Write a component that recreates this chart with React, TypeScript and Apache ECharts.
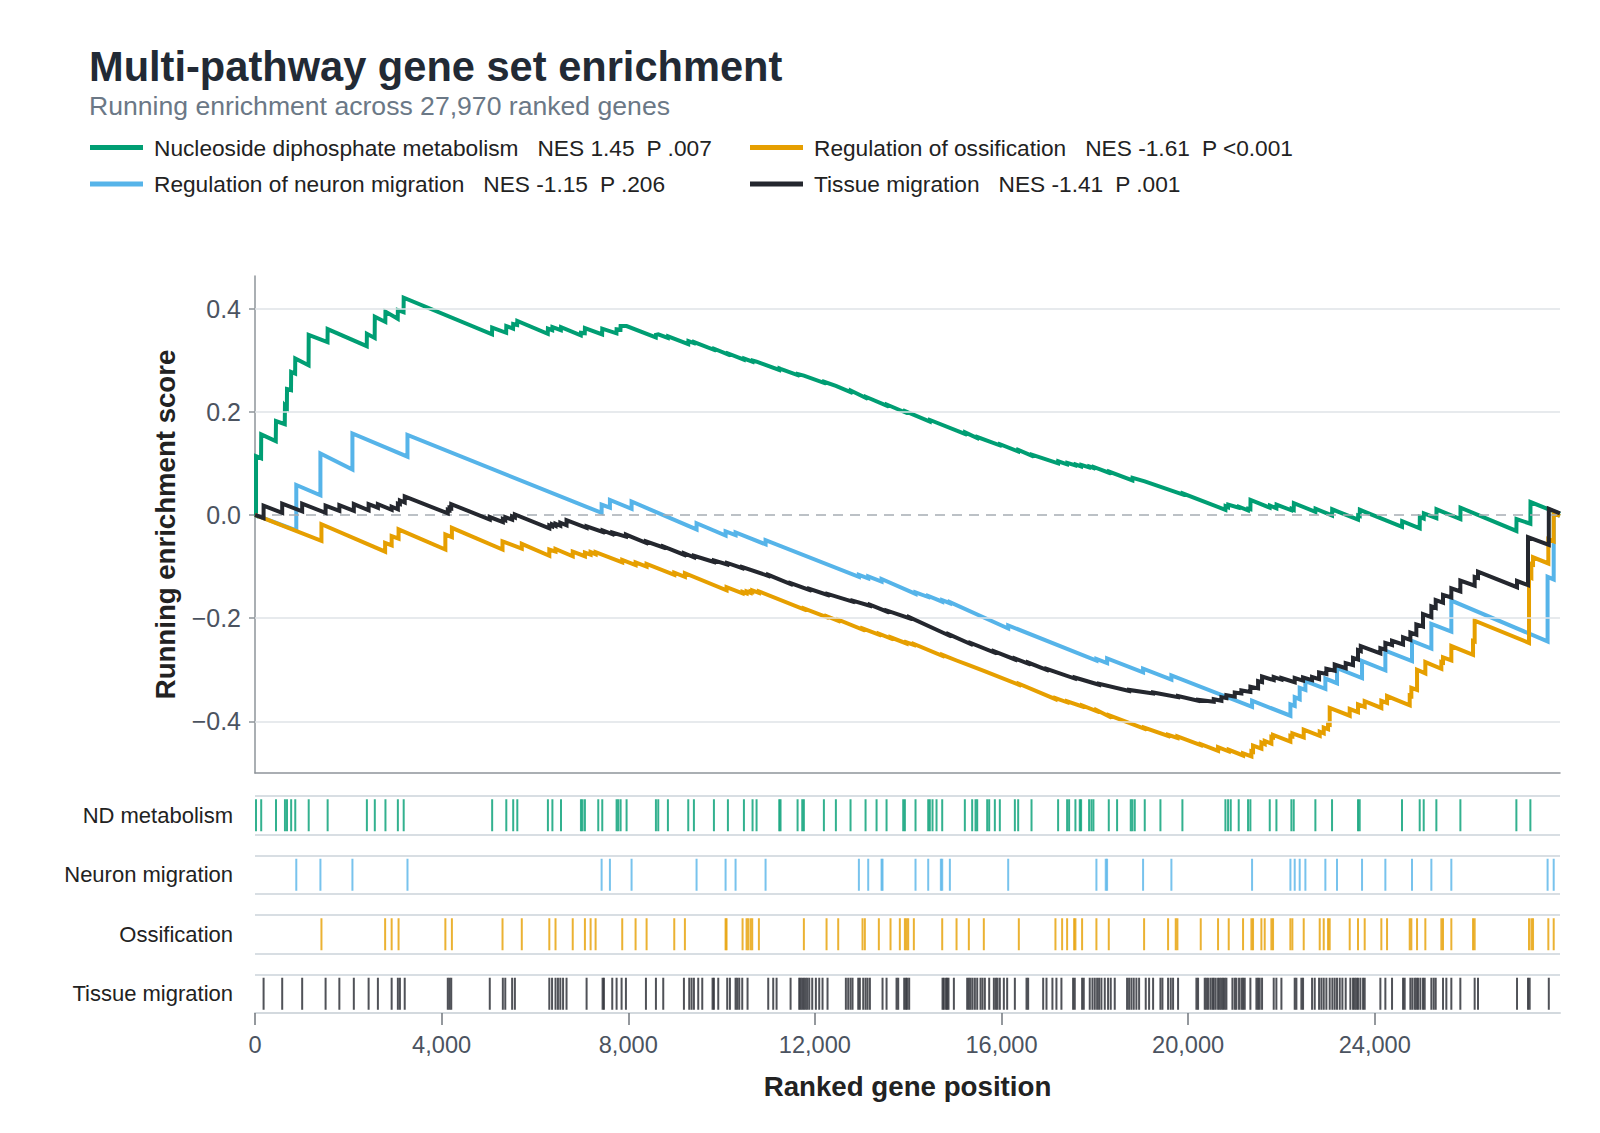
import React, { useEffect, useRef } from "react";
import * as echarts from "echarts";

const TOTAL_GENES = 27970;
const yTickValues = [-0.4, -0.2, 0, 0.2, 0.4];
const xTickValues = [0, 4000, 8000, 12000, 16000, 20000, 24000];
const gridLineValues = [-0.4, -0.2, 0.2, 0.4];

const pathwayNames = [
  "Nucleoside diphosphate metabolism",
  "Regulation of neuron migration",
  "Regulation of ossification",
  "Tissue migration",
];
const nesValues = ["1.45", "-1.15", "-1.61", "-1.41"];
const pValues = [".007", ".206", "<0.001", ".001"];
const rugLabels = ["ND metabolism", "Neuron migration", "Ossification", "Tissue migration"];
const colors = ["#009E73", "#56B4E9", "#E69F00", "#24272e"];

// Running enrichment score: [gene rank, score]
const ndScore = [
  [0, 0], [22, -0.001], [22, 0.114], [130, 0.11], [133, 0.156], [445, 0.143], [450, 0.182], [638, 0.176], [642, 0.212],
  [683, 0.208], [686, 0.244], [772, 0.242], [775, 0.277], [860, 0.274], [863, 0.303], [1148, 0.29], [1151, 0.349],
  [1554, 0.335], [1557, 0.36], [2395, 0.327], [2398, 0.351], [2565, 0.343], [2568, 0.384], [2793, 0.374], [2796, 0.394],
  [3059, 0.38], [3062, 0.397], [3184, 0.393], [3187, 0.421], [5080, 0.35], [5083, 0.363], [5383, 0.353], [5386, 0.366],
  [5531, 0.361], [5534, 0.37], [5619, 0.368], [5622, 0.376], [6275, 0.351], [6278, 0.361], [6371, 0.358], [6374, 0.364],
  [6556, 0.358], [6559, 0.364], [6983, 0.348], [6986, 0.353], [7068, 0.352], [7071, 0.362], [7440, 0.35], [7443, 0.361],
  [7747, 0.352], [7750, 0.36], [7833, 0.359], [7836, 0.366], [7964, 0.366], [8590, 0.344], [8593, 0.349], [8643, 0.35],
  [8850, 0.343], [8853, 0.346], [9286, 0.331], [9289, 0.337], [9407, 0.333], [9410, 0.335], [9836, 0.32], [9839, 0.322],
  [10136, 0.311], [10139, 0.313], [10479, 0.301], [10482, 0.303], [10664, 0.297], [10667, 0.299], [10750, 0.297],
  [11236, 0.281], [11239, 0.284], [11264, 0.283], [11629, 0.271], [11632, 0.273], [11764, 0.27], [12193, 0.256],
  [12196, 0.258], [12450, 0.25], [12764, 0.238], [12767, 0.241], [13086, 0.227], [13089, 0.229], [13536, 0.212],
  [13539, 0.214], [13929, 0.199], [13932, 0.201], [14464, 0.181], [14467, 0.184], [15214, 0.157], [15217, 0.16],
  [15479, 0.149], [15482, 0.151], [15964, 0.135], [15967, 0.137], [16357, 0.123], [16360, 0.126], [16643, 0.115],
  [16646, 0.117], [17213, 0.1], [17216, 0.104], [17406, 0.098], [17409, 0.101], [17584, 0.096], [17587, 0.098],
  [17706, 0.094], [17709, 0.097], [17877, 0.092], [17880, 0.094], [17970, 0.091], [17973, 0.093], [18299, 0.082],
  [18302, 0.084], [18806, 0.067], [18809, 0.072], [19070, 0.065], [19073, 0.066], [19877, 0.04], [19880, 0.042],
  [20799, 0.01], [20802, 0.017], [20856, 0.015], [20859, 0.02], [21084, 0.014], [21087, 0.016], [21284, 0.009],
  [21287, 0.012], [21334, 0.011], [21337, 0.029], [21749, 0.014], [21752, 0.018], [21892, 0.013], [21895, 0.02],
  [22213, 0.009], [22216, 0.012], [22263, 0.01], [22266, 0.023], [22727, 0.006], [22730, 0.012], [23084, -0.001],
  [23087, 0.011], [23641, -0.009], [23644, -0.001], [23677, -0.002], [23680, 0.01], [24584, -0.023], [24587, -0.012],
  [24963, -0.026], [24966, -0.004], [25049, -0.007], [25052, 0.003], [25320, -0.006], [25323, 0.011], [25835, -0.008],
  [25838, 0.014], [27035, -0.031], [27038, -0.008], [27335, -0.017], [27338, 0.025], [27970, 0.002],
];

const neuronScore = [
  [0, 0], [885, -0.03], [885, 0.058], [1402, 0.038], [1402, 0.119], [2088, 0.088], [2088, 0.158], [3268, 0.113],
  [3268, 0.155], [7429, 0.004], [7429, 0.02], [7607, 0.014], [7607, 0.029], [8071, 0.012], [8071, 0.026],
  [9464, -0.028], [9464, -0.016], [10086, -0.04], [10086, -0.032], [10300, -0.039], [10300, -0.034], [10943, -0.057],
  [10943, -0.049], [12943, -0.12], [12943, -0.116], [13143, -0.123], [13143, -0.119], [13429, -0.129], [13429, -0.124],
  [14157, -0.153], [14157, -0.15], [14429, -0.159], [14429, -0.157], [14729, -0.168], [14729, -0.165], [14893, -0.171],
  [14893, -0.169], [16143, -0.22], [16143, -0.214], [18034, -0.282], [18034, -0.279], [18263, -0.287], [18263, -0.278],
  [19034, -0.305], [19034, -0.298], [19641, -0.319], [19641, -0.311], [21370, -0.372], [21370, -0.36], [22192, -0.389],
  [22192, -0.367], [22284, -0.37], [22284, -0.353], [22391, -0.357], [22391, -0.335], [22513, -0.339], [22513, -0.322],
  [22941, -0.337], [22941, -0.317], [23191, -0.326], [23191, -0.297], [23727, -0.316], [23727, -0.283], [24227, -0.301],
  [24227, -0.263], [24798, -0.283], [24798, -0.244], [25213, -0.259], [25213, -0.211], [25641, -0.226], [25641, -0.166],
  [27704, -0.245], [27704, -0.12], [27835, -0.125], [27835, 0.003], [27970, -0.002],
];

const ossificationScore = [
  [0, 0], [1424, -0.05], [1424, -0.018], [2789, -0.071], [2789, -0.054], [2929, -0.059], [2929, -0.041], [3077, -0.046],
  [3077, -0.028], [4080, -0.067], [4080, -0.038], [4220, -0.043], [4220, -0.025], [5305, -0.067], [5305, -0.051],
  [5718, -0.065], [5718, -0.056], [6308, -0.079], [6308, -0.067], [6441, -0.071], [6441, -0.066], [6810, -0.08],
  [6810, -0.071], [7071, -0.08], [7071, -0.073], [7193, -0.077], [7193, -0.072], [7300, -0.076], [7300, -0.072],
  [7871, -0.092], [7871, -0.087], [8157, -0.097], [8157, -0.092], [8393, -0.1], [8393, -0.095], [8986, -0.116],
  [8986, -0.112], [9214, -0.12], [9214, -0.113], [10107, -0.146], [10107, -0.14], [10450, -0.152], [10450, -0.149],
  [10536, -0.152], [10536, -0.148], [10621, -0.151], [10621, -0.148], [10657, -0.149], [10657, -0.146], [10800, -0.151],
  [10800, -0.148], [11764, -0.183], [11764, -0.181], [12250, -0.198], [12250, -0.196], [12500, -0.205], [12500, -0.203],
  [13021, -0.222], [13021, -0.22], [13371, -0.232], [13371, -0.23], [13621, -0.239], [13621, -0.237], [13964, -0.249],
  [13964, -0.247], [14121, -0.252], [14121, -0.25], [14729, -0.273], [14729, -0.271], [15036, -0.282], [15036, -0.281],
  [15300, -0.291], [15300, -0.29], [15621, -0.302], [15621, -0.301], [16371, -0.329], [16371, -0.327], [17156, -0.357],
  [17156, -0.355], [17406, -0.363], [17406, -0.361], [17727, -0.371], [17727, -0.369], [18034, -0.38], [18034, -0.378],
  [18299, -0.39], [18299, -0.388], [19056, -0.414], [19056, -0.412], [19570, -0.428], [19570, -0.426], [19770, -0.432],
  [19770, -0.429], [20270, -0.446], [20270, -0.444], [20641, -0.457], [20641, -0.45], [20870, -0.458], [20870, -0.455],
  [21177, -0.466], [21177, -0.462], [21356, -0.468], [21356, -0.458], [21391, -0.459], [21391, -0.447], [21570, -0.453],
  [21570, -0.441], [21641, -0.444], [21641, -0.438], [21784, -0.443], [21784, -0.43], [21820, -0.431], [21820, -0.426],
  [22191, -0.439], [22191, -0.428], [22234, -0.429], [22234, -0.423], [22477, -0.431], [22477, -0.416], [22820, -0.428],
  [22820, -0.42], [22906, -0.423], [22906, -0.412], [22999, -0.415], [22999, -0.405], [23034, -0.406], [23034, -0.374],
  [23463, -0.389], [23463, -0.376], [23641, -0.382], [23641, -0.367], [23784, -0.372], [23784, -0.361], [24141, -0.374],
  [24141, -0.36], [24263, -0.364], [24263, -0.351], [24749, -0.369], [24749, -0.35], [24784, -0.351], [24784, -0.335],
  [24906, -0.339], [24906, -0.3], [25084, -0.307], [25084, -0.285], [25427, -0.298], [25427, -0.285], [25463, -0.286],
  [25463, -0.276], [25641, -0.282], [25641, -0.254], [26106, -0.271], [26106, -0.244], [26141, -0.245], [26141, -0.205],
  [27306, -0.248], [27306, -0.12], [27356, -0.122], [27356, -0.095], [27392, -0.096], [27392, -0.082], [27720, -0.094],
  [27720, -0.047], [27835, -0.051], [27835, 0.003], [27970, -0.002],
];

const tissueScore = [
  [0, 0], [184, -0.006], [184, 0.018], [583, 0.004], [583, 0.022], [1011, 0.007], [1011, 0.022], [1513, 0.004],
  [1513, 0.018], [1808, 0.008], [1808, 0.019], [2118, 0.008], [2118, 0.021], [2435, 0.009], [2435, 0.021], [2634, 0.014],
  [2634, 0.021], [2929, 0.01], [2929, 0.016], [3062, 0.011], [3062, 0.022], [3106, 0.021], [3106, 0.028], [3209, 0.024],
  [3209, 0.036], [4132, 0.003], [4132, 0.01], [4169, 0.009], [4169, 0.014], [4206, 0.013], [4206, 0.021], [5032, -0.009],
  [5032, -0.004], [5312, -0.014], [5312, -0.008], [5364, -0.01], [5364, -0.004], [5511, -0.009], [5511, -0.003],
  [5570, -0.005], [5570, 0.001], [6308, -0.026], [6308, -0.02], [6367, -0.022], [6367, -0.018], [6441, -0.021],
  [6441, -0.017], [6544, -0.021], [6544, -0.015], [6677, -0.02], [6677, -0.01], [7107, -0.025], [7107, -0.022],
  [7450, -0.033], [7450, -0.03], [7657, -0.037], [7657, -0.034], [7950, -0.042], [7950, -0.038], [8379, -0.054],
  [8379, -0.051], [8750, -0.063], [8750, -0.061], [9193, -0.077], [9193, -0.074], [9407, -0.082], [9407, -0.079],
  [9836, -0.091], [9836, -0.088], [10121, -0.096], [10121, -0.093], [10443, -0.103], [10443, -0.101], [11000, -0.118],
  [11000, -0.116], [11479, -0.134], [11479, -0.132], [11879, -0.145], [11879, -0.143], [12271, -0.155], [12271, -0.153],
  [12807, -0.168], [12807, -0.166], [13179, -0.176], [13179, -0.174], [13536, -0.187], [13536, -0.185], [14021, -0.2],
  [14021, -0.198], [14864, -0.233], [14864, -0.231], [15336, -0.25], [15336, -0.248], [15836, -0.266], [15836, -0.264],
  [16286, -0.28], [16286, -0.278], [16571, -0.288], [16571, -0.286], [16964, -0.3], [16964, -0.298], [17570, -0.317],
  [17570, -0.315], [18091, -0.329], [18091, -0.327], [18734, -0.341], [18734, -0.339], [19249, -0.346], [19249, -0.344],
  [19784, -0.353], [19784, -0.351], [20213, -0.36], [20213, -0.358], [20549, -0.362], [20549, -0.357], [20713, -0.36],
  [20713, -0.353], [20820, -0.355], [20820, -0.349], [20999, -0.352], [20999, -0.344], [21141, -0.346], [21141, -0.34],
  [21334, -0.343], [21334, -0.333], [21499, -0.336], [21499, -0.322], [21584, -0.324], [21584, -0.313], [21834, -0.32],
  [21834, -0.314], [21999, -0.319], [21999, -0.316], [22284, -0.324], [22284, -0.316], [22463, -0.321], [22463, -0.315],
  [22656, -0.32], [22656, -0.314], [22806, -0.318], [22806, -0.305], [22963, -0.308], [22963, -0.298], [23141, -0.302],
  [23141, -0.29], [23377, -0.297], [23377, -0.287], [23534, -0.291], [23534, -0.277], [23641, -0.28], [23641, -0.262],
  [23700, -0.264], [23700, -0.254], [24120, -0.268], [24120, -0.258], [24227, -0.261], [24227, -0.248], [24370, -0.252],
  [24370, -0.244], [24606, -0.251], [24606, -0.237], [24763, -0.242], [24763, -0.228], [24891, -0.232], [24891, -0.212],
  [25034, -0.216], [25034, -0.192], [25213, -0.198], [25213, -0.177], [25306, -0.18], [25306, -0.165], [25463, -0.17],
  [25463, -0.155], [25641, -0.16], [25641, -0.142], [25834, -0.148], [25834, -0.127], [26141, -0.137], [26141, -0.12],
  [26213, -0.122], [26213, -0.11], [27049, -0.14], [27049, -0.128], [27284, -0.136], [27284, -0.043], [27730, -0.058],
  [27730, 0.012], [27970, 0.003],
];

// Hit positions (rug ticks)
const ndHits = [
  22, 133, 450, 642, 686, 775, 863, 1151, 1557, 2398, 2568, 2796, 3062, 3187, 5083, 5386, 5534, 5622, 6278, 6374, 6559,
  6986, 7021, 7071, 7357, 7443, 7750, 7786, 7836, 7964, 8593, 8643, 8850, 9286, 9407, 9836, 10136, 10479, 10664, 10750,
  11236, 11264, 11629, 11729, 11764, 12193, 12450, 12764, 13086, 13322, 13536, 13893, 13929, 14157, 14429, 14464, 14521,
  14607, 14729, 15214, 15371, 15443, 15479, 15693, 15736, 15857, 15964, 16286, 16357, 16643, 17213, 17406, 17449, 17584,
  17677, 17706, 17877, 17927, 17970, 18299, 18477, 18770, 18806, 18856, 19070, 19406, 19877, 20799, 20856, 20913, 21084,
  21284, 21334, 21749, 21892, 22213, 22263, 22727, 23084, 23641, 23677, 24584, 24963, 25049, 25320, 25835, 27035, 27335,
];
const neuronHits = [
  885, 1402, 2088, 3268, 7429, 7607, 8071, 9464, 10086, 10300, 10943, 12943, 13143, 13429, 13450, 14157, 14429, 14700,
  14729, 14893, 16143, 18034, 18234, 18263, 19034, 19641, 21370, 22192, 22284, 22391, 22513, 22941, 23191, 23727, 24227,
  24798, 25213, 25641, 27704, 27835,
];
const ossificationHits = [
  1424, 2789, 2929, 3077, 4080, 4220, 5305, 5718, 6308, 6441, 6810, 7071, 7193, 7300, 7871, 8157, 8393, 8986, 9214, 10086,
  10107, 10450, 10536, 10571, 10621, 10657, 10800, 11764, 12250, 12500, 13021, 13071, 13371, 13621, 13821, 13929, 13964,
  14000, 14121, 14729, 15036, 15300, 15621, 16371, 17156, 17299, 17406, 17556, 17584, 17727, 18034, 18299, 19056, 19570,
  19734, 19770, 20270, 20641, 20870, 21177, 21356, 21391, 21570, 21641, 21784, 21820, 22191, 22234, 22477, 22820, 22906,
  22999, 23034, 23463, 23641, 23784, 24141, 24263, 24749, 24784, 24906, 25084, 25427, 25463, 25641, 26106, 26141, 27306,
  27356, 27392, 27720, 27835,
];
const tissueHits = [
  184, 583, 1011, 1513, 1808, 2118, 2435, 2634, 2929, 3062, 3106, 3209, 4132, 4169, 4206, 5032, 5312, 5364, 5511, 5570,
  6308, 6367, 6441, 6493, 6544, 6603, 6677, 7107, 7450, 7479, 7657, 7750, 7857, 7950, 8379, 8593, 8750, 9193, 9307, 9357,
  9407, 9500, 9586, 9807, 9836, 9929, 10121, 10179, 10300, 10336, 10379, 10443, 10557, 11000, 11107, 11179, 11479, 11664,
  11693, 11729, 11764, 11800, 11836, 11879, 11943, 12021, 12093, 12164, 12271, 12664, 12714, 12764, 12807, 12929, 12964,
  13036, 13086, 13129, 13179, 13450, 13536, 13750, 13786, 13914, 13950, 13979, 14021, 14736, 14764, 14807, 14836, 14864,
  14979, 15264, 15300, 15336, 15379, 15429, 15479, 15550, 15593, 15643, 15736, 15836, 15879, 15914, 15964, 16050, 16121,
  16286, 16536, 16571, 16893, 16964, 17091, 17177, 17284, 17534, 17570, 17727, 17763, 17891, 17949, 17999, 18049, 18091,
  18141, 18213, 18284, 18341, 18427, 18691, 18734, 18784, 18834, 18891, 18949, 19091, 19163, 19249, 19406, 19449, 19570,
  19627, 19677, 19784, 20177, 20213, 20356, 20391, 20427, 20477, 20520, 20549, 20591, 20641, 20677, 20713, 20749, 20784,
  20820, 20949, 20999, 21034, 21091, 21141, 21177, 21213, 21334, 21463, 21499, 21534, 21584, 21834, 21891, 21999, 22284,
  22320, 22427, 22463, 22656, 22713, 22806, 22856, 22906, 22963, 23034, 23091, 23141, 23191, 23249, 23306, 23377, 23477,
  23534, 23570, 23606, 23641, 23691, 23749, 23784, 24120, 24227, 24370, 24606, 24641, 24763, 24806, 24856, 24891, 24927,
  24977, 25034, 25070, 25213, 25263, 25306, 25463, 25534, 25641, 25834, 26141, 26213, 27049, 27284, 27320, 27730,
];

const scores = [ndScore, neuronScore, ossificationScore, tissueScore];
const hits = [ndHits, neuronHits, ossificationHits, tissueHits];

const FONT = "'Liberation Sans', Arial, Helvetica, sans-serif";

function fmtY(v: number): string {
  if (Math.abs(v) < 1e-9) return "0.0";
  return (v < 0 ? "\u2212" : "") + Math.abs(v).toFixed(1);
}

export default function App() {
  const ref = useRef<HTMLDivElement>(null);

  useEffect(() => {
    document.body.style.margin = "0";
    const chart = echarts.init(ref.current!, null, { renderer: "svg" });

    const LF = 22.7;
    const legendFormatter = (name: string) => {
      const i = pathwayNames.indexOf(name);
      return `{n|${name}}{a|NES ${nesValues[i]}}{b|P ${pValues[i]}}`;
    };
    const legendText = {
      fontSize: LF,
      color: "#222",
      fontFamily: FONT,
      padding: [0, 0, 0, 6],
      rich: {
        n: { fontSize: LF, color: "#222", fontFamily: FONT, padding: [0, 19, 0, 0] },
        a: { fontSize: LF, color: "#222", fontFamily: FONT, padding: [0, 12, 0, 0] },
        b: { fontSize: LF, color: "#222", fontFamily: FONT },
      },
    };
    const legendCommon = {
      top: 136,
      orient: "vertical",
      itemGap: 13.5,
      itemWidth: 53,
      itemHeight: 5,
      icon: "rect",
      selectedMode: false,
      padding: 0,
      formatter: legendFormatter,
      textStyle: legendText,
    };

    const grids: any[] = [{ left: 255, right: 40, top: 276, height: 497 }];
    const rugTops = [796, 855.5, 915, 974.5];
    rugTops.forEach((t) => grids.push({ left: 255, right: 40, top: t, height: 38.5 }));

    const xAxes: any[] = [
      {
        gridIndex: 0,
        type: "value",
        min: 0,
        max: TOTAL_GENES,
        axisLine: { show: true, onZero: false, lineStyle: { color: "#8e949a", width: 1.5 } },
        axisTick: { show: false },
        axisLabel: { show: false },
        splitLine: { show: false },
      },
    ];
    const yAxes: any[] = [
      {
        gridIndex: 0,
        type: "value",
        min: -0.5,
        max: 0.463,
        axisLine: { show: true, onZero: false, lineStyle: { color: "#8e949a", width: 1.5 } },
        axisTick: { show: true, customValues: yTickValues, length: 6, lineStyle: { color: "#8e949a", width: 1.5 } },
        axisLabel: {
          customValues: yTickValues,
          formatter: fmtY,
          fontSize: 25,
          color: "#4b5360",
          fontFamily: FONT,
          margin: 14,
        },
        splitLine: { show: false },
        name: "Running enrichment score",
        nameLocation: "middle",
        nameGap: 76,
        nameTextStyle: { fontSize: 27.6, fontWeight: "bold", color: "#222", fontFamily: FONT },
      },
    ];
    rugLabels.forEach((label, i) => {
      const last = i === rugLabels.length - 1;
      xAxes.push(
        last
          ? {
              gridIndex: i + 1,
              type: "value",
              min: 0,
              max: TOTAL_GENES,
              axisLine: { show: true, onZero: false, lineStyle: { color: "#d3d9de", width: 2 } },
              axisTick: {
                show: true,
                customValues: xTickValues,
                length: 12,
                lineStyle: { color: "#70767c", width: 1.5 },
              },
              axisLabel: {
                customValues: xTickValues,
                formatter: (v: number) => v.toLocaleString("en-US"),
                fontSize: 23.6,
                color: "#4b5360",
                fontFamily: FONT,
                margin: 20,
              },
              splitLine: { show: false },
              name: "Ranked gene position",
              nameLocation: "middle",
              nameGap: 59,
              nameTextStyle: { fontSize: 27.7, fontWeight: "bold", color: "#222", fontFamily: FONT },
            }
          : { gridIndex: i + 1, type: "value", min: 0, max: TOTAL_GENES, show: false }
      );
      yAxes.push({
        gridIndex: i + 1,
        type: "value",
        min: 0,
        max: 1,
        interval: 1,
        axisLine: { show: false },
        axisTick: { show: false },
        axisLabel: { show: false },
        splitLine: { show: true, lineStyle: { color: "#d8dee3", width: 2 } },
        name: label,
        nameLocation: "middle",
        nameRotate: 0,
        nameGap: 22,
        nameTextStyle: { fontSize: 22, color: "#222", fontFamily: FONT, align: "right", verticalAlign: "middle" },
      });
    });

    const series: any[] = [
      {
        type: "line",
        name: "gridlines",
        xAxisIndex: 0,
        yAxisIndex: 0,
        data: [[0, 0]],
        showSymbol: false,
        symbol: "none",
        lineStyle: { opacity: 0 },
        silent: true,
        z: 1,
        markLine: {
          silent: true,
          symbol: ["none", "none"],
          label: { show: false },
          lineStyle: { color: "#dfe3e7", width: 1.5, type: "solid" },
          data: [
            ...gridLineValues.map((v) => ({ yAxis: v })),
            { yAxis: 0, lineStyle: { color: "#a6adb4", width: 1.5, type: [10, 7] } },
          ],
        },
      },
    ];
    pathwayNames.forEach((name, i) => {
      series.push({
        type: "line",
        name,
        xAxisIndex: 0,
        yAxisIndex: 0,
        data: scores[i],
        showSymbol: false,
        symbol: "none",
        lineStyle: { color: colors[i], width: 4, join: "miter" },
        itemStyle: { color: colors[i] },
        z: 2 + i,
      });
    });
    hits.forEach((h, i) => {
      series.push({
        type: "scatter",
        name: rugLabels[i] + " hits",
        xAxisIndex: i + 1,
        yAxisIndex: i + 1,
        data: h.map((g) => [g, 0.5]),
        symbol: "rect",
        symbolSize: [2, 32],
        itemStyle: { color: colors[i], opacity: 0.8 },
        silent: true,
      });
    });

    chart.setOption({
      animation: false,
      backgroundColor: "#ffffff",
      textStyle: { fontFamily: FONT },
      title: [
        {
          text: "Multi-pathway gene set enrichment",
          left: 89,
          top: 45,
          padding: 0,
          textStyle: { fontSize: 41.6, fontWeight: "bold", color: "#222a35", fontFamily: FONT },
        },
        {
          text: "Running enrichment across 27,970 ranked genes",
          left: 89,
          top: 92,
          padding: 0,
          textStyle: { fontSize: 26.6, fontWeight: "normal", color: "#6b7886", fontFamily: FONT },
        },
      ],
      legend: [
        { ...legendCommon, left: 90, data: [pathwayNames[0], pathwayNames[1]] },
        { ...legendCommon, left: 750, data: [pathwayNames[2], pathwayNames[3]] },
      ],
      grid: grids,
      xAxis: xAxes,
      yAxis: yAxes,
      series,
    });

    return () => chart.dispose();
  }, []);

  return (
    <div
      ref={ref}
      style={{ position: "absolute", left: 0, top: 0, width: 1600, height: 1133, background: "#fff" }}
    />
  );
}
